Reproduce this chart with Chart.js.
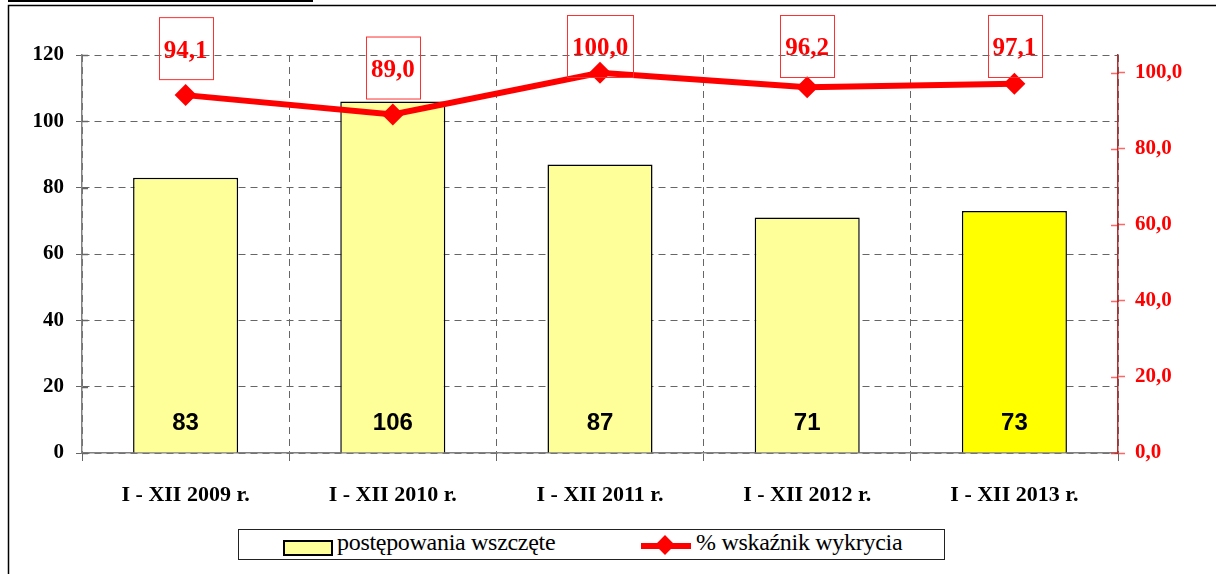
<!DOCTYPE html>
<html>
<head>
<meta charset="utf-8">
<script src="https://cdn.jsdelivr.net/npm/chart.js@4.4.1/dist/chart.umd.min.js"></script>
<style>
  body { margin: 0; background: #fff; }
  #wrap { position: relative; width: 1216px; height: 574px; overflow: hidden; }
  #chart { position: absolute; left: 0; top: 0; }
  #legend {
    position: absolute; left: 238px; top: 529px; width: 707px; height: 31px;
    border: 1px solid #222; box-sizing: border-box; background: #fff;
    font-family: 'Liberation Serif', serif; font-size: 24px; color: #000;
  }
  .swatch { position: absolute; left: 44px; top: 10px; width: 50px; height: 16px;
    background: #FFFF99; border: 2px solid #000; box-sizing: border-box; }
  .lbl { position: absolute; top: -1px; white-space: nowrap; letter-spacing: -0.3px; }
  .lineSym { position: absolute; left: 402px; top: 13px; width: 50px; height: 6px; background: #FF0000; }
  .diam { position: absolute; left: 419px; top: 8px; width: 14px; height: 14px; background: #FF0000; transform: rotate(45deg); }
</style>
</head>
<body>
<div id="wrap">
  <canvas id="chart" width="1216" height="574"></canvas>
  <div id="legend">
    <div class="swatch"></div>
    <span class="lbl" style="left:98px">postępowania wszczęte</span>
    <div class="lineSym"></div>
    <div class="diam"></div>
    <span class="lbl" style="left:457px">% wskaźnik wykrycia</span>
  </div>
</div>
<script>
// chart data
const categories = ['I - XII 2009 r.', 'I - XII 2010 r.', 'I - XII 2011 r.', 'I - XII 2012 r.', 'I - XII 2013 r.'];
const casesStarted = [83, 106, 87, 71, 73];
const detectionRate = [94.1, 89.0, 100.0, 96.2, 97.1];
const barColors = ['#FFFF99', '#FFFF99', '#FFFF99', '#FFFF99', '#FFFF00'];

Chart.defaults.font.family = "'Liberation Serif', serif";
Chart.defaults.color = '#000';

// frame around the chart and the cut-off title underline
const framePlugin = {
    id: 'frame',
    beforeDraw(chart) {
        const ctx = chart.ctx;
        ctx.save();
        ctx.fillStyle = '#000';
        ctx.fillRect(8, 0, 305, 2);
        ctx.strokeStyle = '#000';
        ctx.lineWidth = 1.5;
        ctx.beginPath();
        ctx.moveTo(1216, 5.5);
        ctx.lineTo(8.5, 5.5);
        ctx.lineTo(8.5, 574);
        ctx.stroke();
        ctx.restore();
    },
    // tick marks crossing the value axes (Excel style)
    afterDraw(chart) {
        const ctx = chart.ctx;
        ctx.save();
        ctx.lineWidth = 1.5;
        const y = chart.scales.y, y1 = chart.scales.y1;
        ctx.strokeStyle = '#666';
        y.ticks.forEach(t => {
            const py = Math.round(y.getPixelForValue(t.value)) + 0.5;
            ctx.beginPath(); ctx.moveTo(y.right, py); ctx.lineTo(y.right + 6, py); ctx.stroke();
        });
        ctx.strokeStyle = 'rgba(255,0,0,0.6)';
        y1.ticks.forEach(t => {
            const py = Math.round(y1.getPixelForValue(t.value)) + 0.5;
            ctx.beginPath(); ctx.moveTo(y1.left - 7, py); ctx.lineTo(y1.left, py); ctx.stroke();
        });
        ctx.restore();
    }
};

// value labels: numbers inside bars, red boxed labels above the line
const labelPlugin = {
    id: 'labels',
    afterDatasetsDraw(chart) {
        const ctx = chart.ctx;
        const y = chart.scales.y;
        ctx.save();

        const bars = chart.getDatasetMeta(1).data;
        ctx.font = "bold 24px 'Liberation Sans', Arial, sans-serif";
        ctx.fillStyle = '#000';
        ctx.textAlign = 'center';
        ctx.textBaseline = 'middle';
        bars.forEach((bar, i) => {
            ctx.fillText(String(casesStarted[i]), bar.x, y.getPixelForValue(8.8));
        });

        const pts = chart.getDatasetMeta(0).data;
        ctx.font = "bold 25px 'Liberation Serif', serif";
        pts.forEach((p, i) => {
            const txt = detectionRate[i].toFixed(1).replace('.', ',');
            const w = ctx.measureText(txt).width + 10;
            const h = 62;
            const top = Math.max(15, p.y - 78);
            ctx.strokeStyle = '#FF3030';
            ctx.lineWidth = 1;
            ctx.strokeRect(Math.round(p.x - w / 2) + 0.5, top + 0.5, Math.round(w), h);
            ctx.fillStyle = '#FF0000';
            ctx.fillText(txt, p.x, top + 34);
        });
        ctx.restore();
    }
};

new Chart(document.getElementById('chart'), {
    data: {
        labels: categories,
        datasets: [
            {
                type: 'line',
                label: '% wskaźnik wykrycia',
                data: detectionRate,
                yAxisID: 'y1',
                borderColor: '#FF0000',
                backgroundColor: '#FF0000',
                borderWidth: 6,
                pointStyle: 'rectRot',
                pointRadius: 11,
                pointBorderWidth: 0,
                tension: 0,
                clip: false,
                order: 0
            },
            {
                type: 'bar',
                label: 'postępowania wszczęte',
                data: casesStarted,
                yAxisID: 'y',
                backgroundColor: barColors,
                borderColor: '#000',
                borderWidth: 1.5,
                categoryPercentage: 1,
                barPercentage: 0.507,
                order: 1
            }
        ]
    },
    options: {
        responsive: false,
        animation: false,
        layout: { padding: { top: 55, left: 0, right: 0, bottom: 0 } },
        plugins: {
            legend: { display: false },
            tooltip: { enabled: false }
        },
        scales: {
            x: {
                offset: true,
                grid: {
                    offset: true,
                    color: '#666',
                    tickLength: 8,
                    tickColor: '#666'
                },
                border: { display: true, color: '#808080', width: 1.5, dash: [7, 5] },
                ticks: {
                    font: { size: 22, weight: 'bold' },
                    color: '#000',
                    padding: 21,
                    maxRotation: 0
                },
                afterFit(scale) { scale.height = 121; }
            },
            y: {
                position: 'left',
                min: 0,
                max: 120,
                ticks: {
                    stepSize: 20,
                    font: { size: 21, weight: 'bold' },
                    color: '#000',
                    padding: 12
                },
                grid: {
                    color: '#666',
                    tickLength: 6,
                    tickColor: '#666'
                },
                border: { display: true, color: '#808080', width: 1.5, dash: [7, 5] },
                afterFit(scale) { scale.width = 82; }
            },
            y1: {
                position: 'right',
                min: 0,
                max: 104.65,
                ticks: {
                    stepSize: 20,
                    includeBounds: false,
                    font: { size: 21, weight: 'bold' },
                    color: '#FF0000',
                    padding: 10,
                    callback: v => v.toFixed(1).replace('.', ',')
                },
                grid: {
                    drawOnChartArea: false,
                    tickLength: 7,
                    tickColor: 'rgba(255,0,0,0.6)',
                    tickWidth: 1.5
                },
                border: { display: true, color: '#B03030', width: 1.5 },
                afterFit(scale) { scale.width = 98; }
            }
        }
    },
    plugins: [framePlugin, labelPlugin]
});
</script>
</body>
</html>
